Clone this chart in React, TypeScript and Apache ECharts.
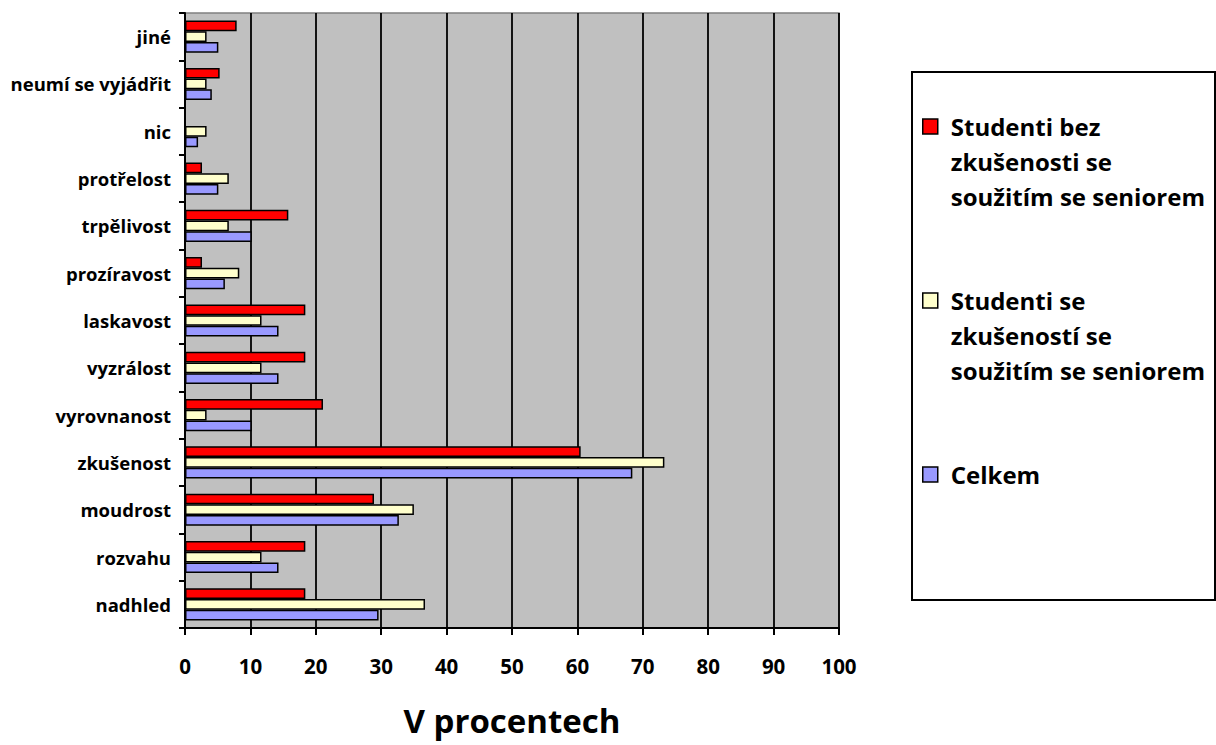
import React, { useEffect, useRef } from "react";
import * as echarts from "echarts";

const categories = [
  "nadhled",
  "rozvahu",
  "moudrost",
  "zkušenost",
  "vyrovnanost",
  "vyzrálost",
  "laskavost",
  "prozíravost",
  "trpělivost",
  "protřelost",
  "nic",
  "neumí se vyjádřit",
  "jiné",
];

const seriesNames = [
  "Studenti bez\nzkušenosti se\nsoužitím se seniorem",
  "Studenti se\nzkušeností se\nsoužitím se seniorem",
  "Celkem",
];

const bezZkusenosti = [18.4, 18.4, 28.9, 60.5, 21.1, 18.4, 18.4, 2.6, 15.8, 2.6, 0, 5.3, 7.9];
const seZkusenosti = [36.7, 11.7, 35.0, 73.3, 3.3, 11.7, 11.7, 8.3, 6.7, 6.7, 3.3, 3.3, 3.3];
const celkem = [29.6, 14.3, 32.7, 68.4, 10.2, 14.3, 14.3, 6.1, 10.2, 5.1, 2.0, 4.1, 5.1];

const xTicks = [0, 10, 20, 30, 40, 50, 60, 70, 80, 90, 100];

const colors = ["#ff0000", "#ffffcc", "#9999ff"];
const FONT = "'Open Sans', Lato, sans-serif";

export default function App() {
  const ref = useRef<HTMLDivElement>(null);

  useEffect(() => {
    if (!ref.current) return;
    const chart = echarts.init(ref.current, undefined, { renderer: "svg" });
    const values = [bezZkusenosti, seZkusenosti, celkem];
    chart.setOption({
      animation: false,
      backgroundColor: "#ffffff",
      textStyle: { fontFamily: FONT },
      grid: {
        left: 185,
        top: 13,
        right: 377,
        bottom: 117,
        show: true,
        backgroundColor: "#c0c0c0",
        borderColor: "#808080",
        borderWidth: 1.5,
      },
      legend: {
        orient: "vertical",
        left: 922,
        top: 39,
        padding: 0,
        itemGap: -1,
        itemWidth: 15,
        itemHeight: 15,
        icon: "rect",
        data: seriesNames,
        formatter: (name: string) => {
          if (name === "Celkem") return "\n\nCelkem\n\n";
          return "\n\n" + name;
        },
        textStyle: {
          fontFamily: FONT,
          fontSize: 24,
          fontWeight: "bold",
          color: "#000000",
          lineHeight: 35,
          padding: [0, 0, 0, 8],
        },
        itemStyle: { borderColor: "#000000", borderWidth: 1.5 },
      },
      graphic: [
        {
          type: "rect",
          shape: { x: 912, y: 72, width: 303, height: 528 },
          style: { fill: "#ffffff", stroke: "#000000", lineWidth: 2 },
          z: -10,
        },
      ],
      xAxis: {
        type: "value",
        min: 0,
        max: 100,
        interval: 10,
        name: "V procentech",
        nameLocation: "middle",
        nameGap: 76,
        nameTextStyle: {
          fontFamily: FONT,
          fontSize: 33,
          fontWeight: "bold",
          color: "#000000",
        },
        axisLine: { show: true, lineStyle: { color: "#000000", width: 2 } },
        axisTick: { show: true, length: 7, lineStyle: { color: "#000000", width: 2 } },
        axisLabel: {
          margin: 27,
          fontFamily: FONT,
          fontSize: 20.5,
          fontWeight: "bold",
          color: "#000000",
          formatter: (v: number) => (xTicks.includes(v) ? String(v) : ""),
        },
        splitLine: { show: true, lineStyle: { color: "#000000", width: 1.8 } },
      },
      yAxis: {
        type: "category",
        data: categories,
        axisLine: { show: true, lineStyle: { color: "#000000", width: 2 } },
        axisTick: { show: true, length: 6, lineStyle: { color: "#000000", width: 2 } },
        axisLabel: {
          margin: 14,
          fontFamily: FONT,
          fontSize: 18.5,
          fontWeight: "bold",
          color: "#000000",
        },
        splitLine: { show: false },
      },
      series: seriesNames.map((name, i) => ({
        name,
        type: "bar",
        data: values[i],
        barGap: "0%",
        barCategoryGap: "32%",
        itemStyle: { color: colors[i], borderColor: "#000000", borderWidth: 1.5 },
      })),
    });
    return () => chart.dispose();
  }, []);

  return (
    <div
      ref={ref}
      style={{ position: "fixed", left: 0, top: 0, width: 1216, height: 745 }}
    />
  );
}
